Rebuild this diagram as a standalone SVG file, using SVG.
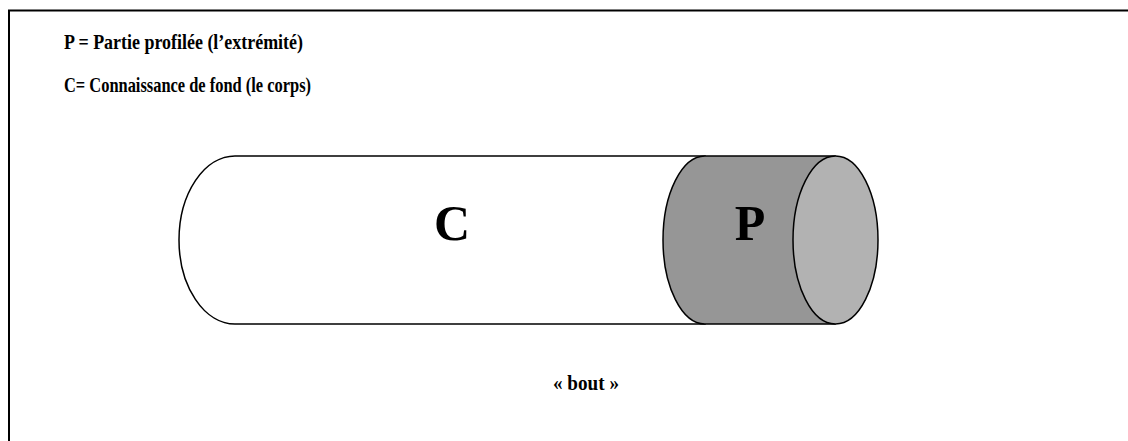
<svg xmlns="http://www.w3.org/2000/svg" width="1128" height="441" viewBox="0 0 1128 441">
<style>
.t{font-family:"Liberation Serif","Times New Roman",serif;font-weight:bold;fill:#000}
.s{stroke:#000;stroke-width:1.5}
</style>
<rect x="0" y="0" width="1128" height="441" fill="#fff"/>
<g id="frame" fill="none" stroke="#000" stroke-width="2">
<path d="M9 441 V10.5 H1128"/>
</g>
<g id="legend">
<text class="t" x="64" y="49" font-size="21" textLength="239" lengthAdjust="spacingAndGlyphs">P = Partie profilée (l’extrémité)</text>
<text class="t" x="64" y="92" font-size="21" textLength="247" lengthAdjust="spacingAndGlyphs">C= Connaissance de fond (le corps)</text>
</g>
<g id="corps">
<path class="s" d="M235 156 H705 V324 H235 A56 84 0 0 1 235 156 Z" fill="#fff"/>
<text class="t" x="452" y="240" font-size="50" text-anchor="middle">C</text>
</g>
<g id="extremite">
<path class="s" d="M705 156 H835 V324 H705 A42 84 0 0 1 705 156 Z" fill="#969696"/>
<ellipse class="s" cx="835.5" cy="240" rx="42.5" ry="84" fill="#b2b2b2"/>
<text class="t" x="750" y="240" font-size="50" text-anchor="middle">P</text>
</g>
<g id="bout">
<text class="t" x="586" y="390" font-size="21" text-anchor="middle" textLength="66" lengthAdjust="spacingAndGlyphs">« bout »</text>
</g>
</svg>
